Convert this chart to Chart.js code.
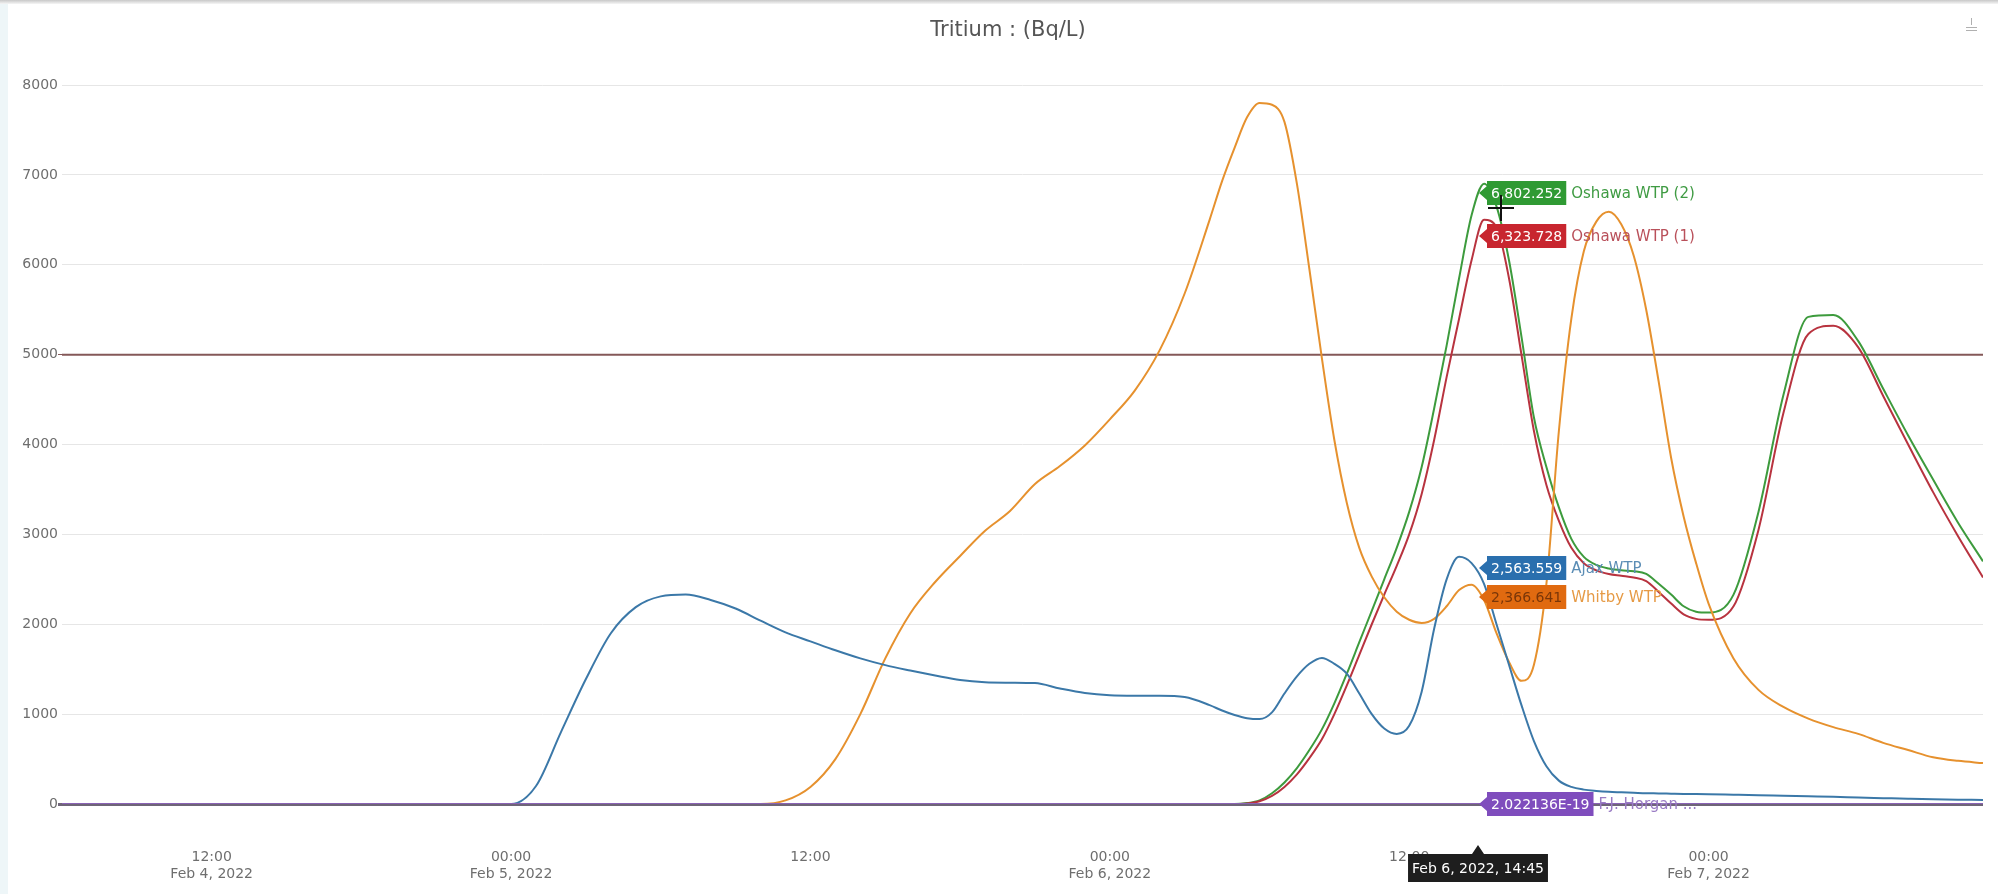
<!DOCTYPE html>
<html>
<head>
<meta charset="utf-8">
<title>Tritium : (Bq/L)</title>
<script src="https://cdn.jsdelivr.net/npm/chart.js@4.4.1/dist/chart.umd.min.js"></script>
<style>
  html, body { margin: 0; padding: 0; background: #fff; overflow: hidden; }
  #wrap { position: relative; width: 1998px; height: 894px; }
  #edgeLeft { position: absolute; left: 0; top: 0; width: 8px; height: 894px; background: #eef6f8; }
  #edgeTop { position: absolute; left: 0; top: 0; width: 1998px; height: 4px; background: linear-gradient(#c8c8c8, #f6f6f6); }
</style>
</head>
<body>
<div id="wrap">
  <canvas id="tritiumChart" width="1998" height="894"></canvas>
  <div id="edgeLeft"></div>
  <div id="edgeTop"></div>
</div>
<script>
const chartTitle = 'Tritium : (Bq/L)';

// hours counted from Feb 4, 2022 00:00
const hours = [
  6, 9, 12, 15, 18, 21, 23,
  24, 25, 26, 27, 28, 29, 30, 31, 32, 33,
  34, 35, 36, 37, 38, 39, 40, 41, 42, 43,
  44, 45, 46, 47, 48, 49, 50, 51, 52,
  52.5, 53, 53.5, 54, 54.5, 55, 55.5, 56, 56.5, 57,
  57.5, 58, 58.5, 59, 59.5, 60, 60.5, 61, 61.5, 62,
  62.5, 63, 63.5, 64, 64.5, 65, 65.5, 66, 66.5, 67,
  67.5, 68, 68.5, 69, 69.5, 70, 70.5, 71, 71.5, 72,
  73, 74, 75, 76, 77, 78, 79, 80, 81, 82, 83
];

const ajaxValues = [
  0, 0, 0, 0, 0, 0, 0,
  0, 200, 800, 1390, 1900, 2190, 2310, 2330, 2270, 2175,
  2040, 1910, 1810, 1710, 1620, 1545, 1485, 1430, 1380, 1355,
  1350, 1345, 1285, 1235, 1210, 1205, 1205, 1190, 1100,
  1040, 990, 955, 945, 1020, 1230, 1420, 1560, 1625, 1560,
  1450, 1230, 1000, 840, 780, 870, 1250, 1950, 2500, 2750,
  2680, 2450, 2000, 1550, 1100, 700, 420, 260, 190, 160,
  145, 135, 130, 125, 120, 118, 115, 112, 110, 108,
  103, 98, 92, 86, 80, 72, 65, 58, 52, 48, 45
];

const whitbyValues = [
  0, 0, 0, 0, 0, 0, 0,
  0, 0, 0, 0, 0, 0, 0, 0, 0, 0,
  0, 40, 190, 500, 1000, 1620, 2120, 2470, 2760, 3040,
  3260, 3560, 3760, 3990, 4280, 4600, 5050, 5680, 6500,
  6930, 7300, 7640, 7800, 7780, 7590, 6900, 5950, 4960, 4050,
  3350, 2850, 2530, 2300, 2140, 2050, 2015, 2060, 2200, 2380,
  2440, 2270, 1900, 1580, 1370, 1550, 2450, 4150, 5400, 6150,
  6480, 6590, 6450, 6100, 5500, 4700, 3850, 3200, 2680, 2230,
  1620, 1270, 1080, 950, 855, 780, 680, 600, 520, 480, 455
];

const oshawa1Values = [
  0, 0, 0, 0, 0, 0, 0,
  0, 0, 0, 0, 0, 0, 0, 0, 0, 0,
  0, 0, 0, 0, 0, 0, 0, 0, 0, 0,
  0, 0, 0, 0, 0, 0, 0, 0, 0,
  0, 0, 5, 30, 90, 190, 330, 510, 720, 1000,
  1320, 1660, 2000, 2330, 2650, 3000, 3450, 4050, 4750, 5400,
  6050, 6500, 6420, 5850, 5000, 4150, 3550, 3150, 2850, 2680,
  2600, 2560, 2540, 2520, 2480, 2360, 2230, 2110, 2060, 2050,
  2200, 3050, 4350, 5230, 5320, 5080, 4540, 4000, 3470, 2980, 2520
];

const oshawa2Values = [
  0, 0, 0, 0, 0, 0, 0,
  0, 0, 0, 0, 0, 0, 0, 0, 0, 0,
  0, 0, 0, 0, 0, 0, 0, 0, 0, 0,
  0, 0, 0, 0, 0, 0, 0, 0, 0,
  0, 0, 10, 40, 120, 240, 400, 600, 830, 1120,
  1450, 1800, 2150, 2500, 2850, 3250, 3750, 4400, 5100, 5850,
  6550, 6900, 6650, 6050, 5200, 4300, 3750, 3300, 2950, 2750,
  2660, 2620, 2600, 2590, 2560, 2450, 2330, 2200, 2140, 2130,
  2330, 3250, 4550, 5420, 5440, 5150, 4620, 4100, 3610, 3130, 2700
];

const horganHours = [6, 83];
const horganValues = [0, 0];

const limitValue = 5000;

const xTicks = [12, 24, 36, 48, 60, 72];
const xTickTimes = ['12:00', '00:00', '12:00', '00:00', '12:00', '00:00'];
const xTickDates = ['Feb 4, 2022', 'Feb 5, 2022', '', 'Feb 6, 2022', '', 'Feb 7, 2022'];

// cursor readout at Feb 6, 2022 14:45
const cursorHour = 62.75;
const cursorLabel = 'Feb 6, 2022, 14:45';
const cursorNames = ['Oshawa WTP (2)', 'Oshawa WTP (1)', 'Ajax WTP', 'Whitby WTP', 'F.J. Horgan ...'];
const cursorValues = [6802.252, 6323.728, 2563.559, 2366.641, 2.022136e-19];
const cursorBoxColors = ['#2f9a33', '#c8262f', '#2a6fae', '#e06a10', '#7f4dbd'];
const cursorTextColors = ['#ffffff', '#ffffff', '#ffffff', '#7a3608', '#ffffff'];
const cursorNameColors = ['#3f9b43', '#b9505a', '#5b8db5', '#e69a45', '#9a7cc4'];

const limitColor = '#845858';

function toPoints(xs, ys) {
  return xs.map((x, i) => ({ x: x, y: ys[i] }));
}

function formatValue(v) {
  if (v > 0 && v < 1e-6) {
    return v.toExponential(6).toUpperCase();
  }
  return v.toLocaleString('en-US', { minimumFractionDigits: 3, maximumFractionDigits: 3 });
}

const overlayPlugin = {
  id: 'overlay',
  afterDraw(chart) {
    const ctx = chart.ctx;
    const xs = chart.scales.x;
    const ys = chart.scales.y;
    const cx = Math.round(xs.getPixelForValue(cursorHour));

    ctx.save();

    // title
    ctx.font = '21px "DejaVu Sans"';
    ctx.fillStyle = '#555';
    ctx.textAlign = 'center';
    ctx.textBaseline = 'middle';
    ctx.fillText(chartTitle, 1008, 31);

    // small menu icon top right
    ctx.strokeStyle = '#b0b0b0';
    ctx.lineWidth = 1;
    ctx.beginPath();
    ctx.moveTo(1971.5, 18); ctx.lineTo(1971.5, 25);
    ctx.moveTo(1966, 27.5); ctx.lineTo(1977, 27.5);
    ctx.moveTo(1966, 30.5); ctx.lineTo(1977, 30.5);
    ctx.stroke();

    // value boxes next to the cursor
    const items = cursorValues.map((v, i) => ({ v: v, i: i, y: ys.getPixelForValue(v) }));
    items.sort((a, b) => a.y - b.y);
    for (let k = 1; k < items.length; k++) {
      const d = 29 - (items[k].y - items[k - 1].y);
      if (d > 0) {
        items[k - 1].y -= d / 2;
        items[k].y += d / 2;
      }
    }

    items.forEach(it => {
      const text = formatValue(it.v);
      ctx.font = '14px "DejaVu Sans"';
      const w = ctx.measureText(text).width + 8;
      const x0 = cx + 9;
      const h = 24;
      const y = Math.round(it.y);
      ctx.fillStyle = cursorBoxColors[it.i];
      ctx.beginPath();
      ctx.moveTo(cx + 1, y);
      ctx.lineTo(x0, y - 7);
      ctx.lineTo(x0, y - h / 2);
      ctx.lineTo(x0 + w, y - h / 2);
      ctx.lineTo(x0 + w, y + h / 2);
      ctx.lineTo(x0, y + h / 2);
      ctx.lineTo(x0, y + 7);
      ctx.closePath();
      ctx.fill();

      ctx.fillStyle = cursorTextColors[it.i];
      ctx.textAlign = 'left';
      ctx.textBaseline = 'middle';
      ctx.fillText(text, x0 + 4, y + 1);

      ctx.font = '15px "DejaVu Sans"';
      ctx.fillStyle = cursorNameColors[it.i];
      ctx.fillText(cursorNames[it.i], x0 + w + 5, y + 1);
    });

    // mouse cursor
    ctx.strokeStyle = '#111';
    ctx.lineWidth = 2;
    ctx.beginPath();
    ctx.moveTo(1488, 208); ctx.lineTo(1514, 208);
    ctx.moveTo(1501, 195); ctx.lineTo(1501, 221);
    ctx.stroke();

    // date tooltip under the axis
    ctx.font = '14px "DejaVu Sans"';
    const tw = ctx.measureText(cursorLabel).width + 8;
    const bx = cx - tw / 2;
    const by = 854;
    const bh = 28;
    ctx.fillStyle = '#1e1e1e';
    ctx.beginPath();
    ctx.moveTo(bx, by);
    ctx.lineTo(cx - 6, by);
    ctx.lineTo(cx, by - 9);
    ctx.lineTo(cx + 6, by);
    ctx.lineTo(bx + tw, by);
    ctx.lineTo(bx + tw, by + bh);
    ctx.lineTo(bx, by + bh);
    ctx.closePath();
    ctx.fill();
    ctx.fillStyle = '#fff';
    ctx.textAlign = 'center';
    ctx.textBaseline = 'middle';
    ctx.fillText(cursorLabel, cx, by + bh / 2 + 1);

    ctx.restore();
  }
};

Chart.defaults.font.family = '"DejaVu Sans"';

const lineStyle = {
  borderWidth: 2,
  pointRadius: 0,
  pointHoverRadius: 0,
  fill: false,
  cubicInterpolationMode: 'monotone'
};

new Chart(document.getElementById('tritiumChart'), {
  type: 'line',
  data: {
    datasets: [
      Object.assign({ label: 'F.J. Horgan WTP', data: toPoints(horganHours, horganValues), borderColor: '#8a62b5' }, lineStyle),
      Object.assign({ label: 'Ajax WTP', data: toPoints(hours, ajaxValues), borderColor: '#3b78a8' }, lineStyle),
      Object.assign({ label: 'Whitby WTP', data: toPoints(hours, whitbyValues), borderColor: '#e6912e' }, lineStyle),
      Object.assign({ label: 'Oshawa WTP (1)', data: toPoints(hours, oshawa1Values), borderColor: '#b8333f' }, lineStyle),
      Object.assign({ label: 'Oshawa WTP (2)', data: toPoints(hours, oshawa2Values), borderColor: '#3d9b3d' }, lineStyle),
      Object.assign({
        label: 'Limit',
        data: toPoints([hours[0], hours[hours.length - 1]], [limitValue, limitValue]),
        borderColor: limitColor
      }, lineStyle)
    ]
  },
  options: {
    responsive: false,
    animation: false,
    devicePixelRatio: 1,
    layout: { padding: { top: 85, right: 15, bottom: 0, left: 0 } },
    plugins: {
      legend: { display: false },
      tooltip: { enabled: false },
      title: { display: false }
    },
    events: [],
    scales: {
      x: {
        type: 'linear',
        min: hours[0],
        max: hours[hours.length - 1],
        afterBuildTicks: scale => { scale.ticks = xTicks.map(v => ({ value: v })); },
        afterFit: scale => { scale.height = 90; },
        grid: { display: false },
        border: { display: false },
        ticks: {
          padding: 37,
          color: '#6e6e6e',
          font: { size: 14 },
          maxRotation: 0,
          autoSkip: false,
          callback: value => {
            const i = xTicks.indexOf(value);
            if (i < 0) return '';
            return xTickDates[i] ? [xTickTimes[i], xTickDates[i]] : xTickTimes[i];
          }
        }
      },
      y: {
        min: 0,
        max: 8000,
        afterFit: scale => { scale.width = 62; },
        border: { display: false },
        grid: {
          color: c => c.tick.value === 0 ? '#6f6578' : '#e6e6e6',
          lineWidth: c => c.tick.value === 0 ? 3 : 1,
          drawTicks: true,
          tickLength: 4,
          tickColor: c => c.tick.value === limitValue ? limitColor : (c.tick.value === 0 ? '#6f6578' : 'rgba(0,0,0,0)')
        },
        ticks: {
          stepSize: 1000,
          padding: 0,
          color: '#6e6e6e',
          font: { size: 14 },
          callback: value => String(value)
        }
      }
    }
  },
  plugins: [overlayPlugin]
});
</script>
</body>
</html>
